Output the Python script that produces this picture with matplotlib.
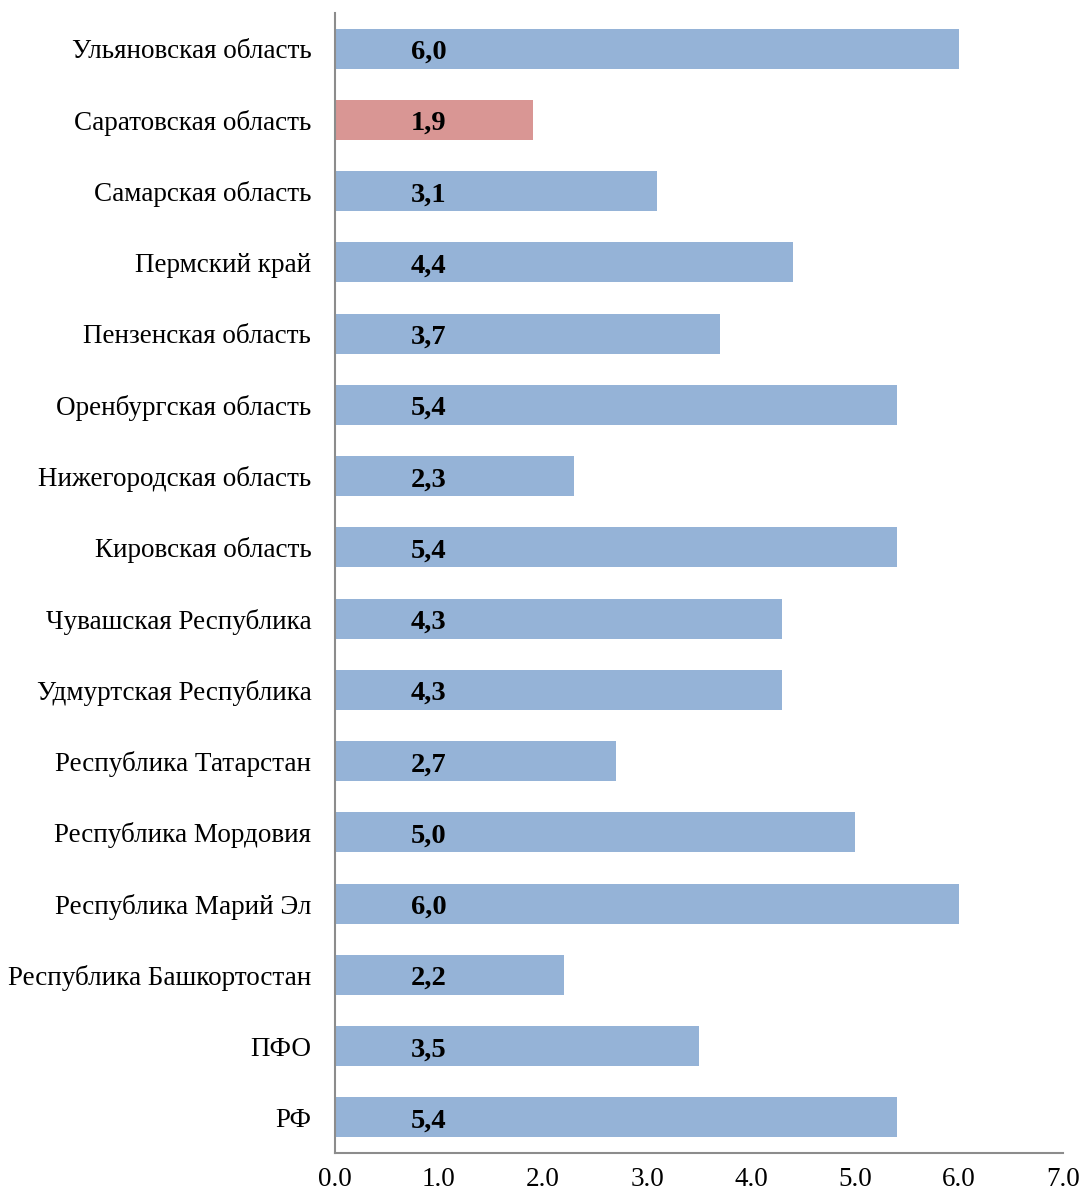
import matplotlib
matplotlib.use("Agg")
import matplotlib.pyplot as plt

# ----------------------------- Data -----------------------------
regions = [
    "Ульяновская область",
    "Саратовская область",
    "Самарская область",
    "Пермский край",
    "Пензенская область",
    "Оренбургская область",
    "Нижегородская область",
    "Кировская область",
    "Чувашская Республика",
    "Удмуртская Республика",
    "Республика Татарстан",
    "Республика Мордовия",
    "Республика Марий Эл",
    "Республика Башкортостан",
    "ПФО",
    "РФ",
]
values = [6.0, 1.9, 3.1, 4.4, 3.7, 5.4, 2.3, 5.4, 4.3, 4.3, 2.7, 5.0, 6.0, 2.2, 3.5, 5.4]
highlight = "Саратовская область"
x_ticks = [0.0, 1.0, 2.0, 3.0, 4.0, 5.0, 6.0, 7.0]

BLUE = "#95B3D7"
RED = "#D99694"
SPINE = "#8C8C8C"

plt.rcParams.update({
    "font.family": ["Liberation Serif", "DejaVu Serif"],
    "font.size": 19.5,
})

fig = plt.figure(figsize=(10.84, 11.95), dpi=100)
ax = fig.add_axes([0.309, 0.0351, 0.6717, 0.954])

# top-to-bottom order
ypos = list(range(len(regions) - 1, -1, -1))
colors = [RED if r == highlight else BLUE for r in regions]
ax.barh(ypos, values, height=0.56, color=colors)

for y, v in zip(ypos, values):
    ax.text(0.9, y - 0.05, f"{v:.1f}".replace(".", ","), ha="center", va="center",
            fontsize=20.5, fontweight="bold", color="black")

ax.set_xlim(0, 7)
ax.set_ylim(-0.5, len(regions) - 0.5)
ax.set_xticks(x_ticks)
ax.set_xticklabels([f"{t:.1f}" for t in x_ticks])
ax.set_yticks(ypos)
ax.set_yticklabels(regions)
ax.tick_params(axis="both", length=0)
ax.tick_params(axis="y", labelsize=19.5, pad=17)
ax.tick_params(axis="x", labelsize=19.5, pad=10)

ax.spines["right"].set_visible(False)
ax.spines["top"].set_visible(False)
for s in ("left", "bottom"):
    ax.spines[s].set_color(SPINE)
    ax.spines[s].set_linewidth(1.5)

fig.savefig("out.png", dpi=100)
